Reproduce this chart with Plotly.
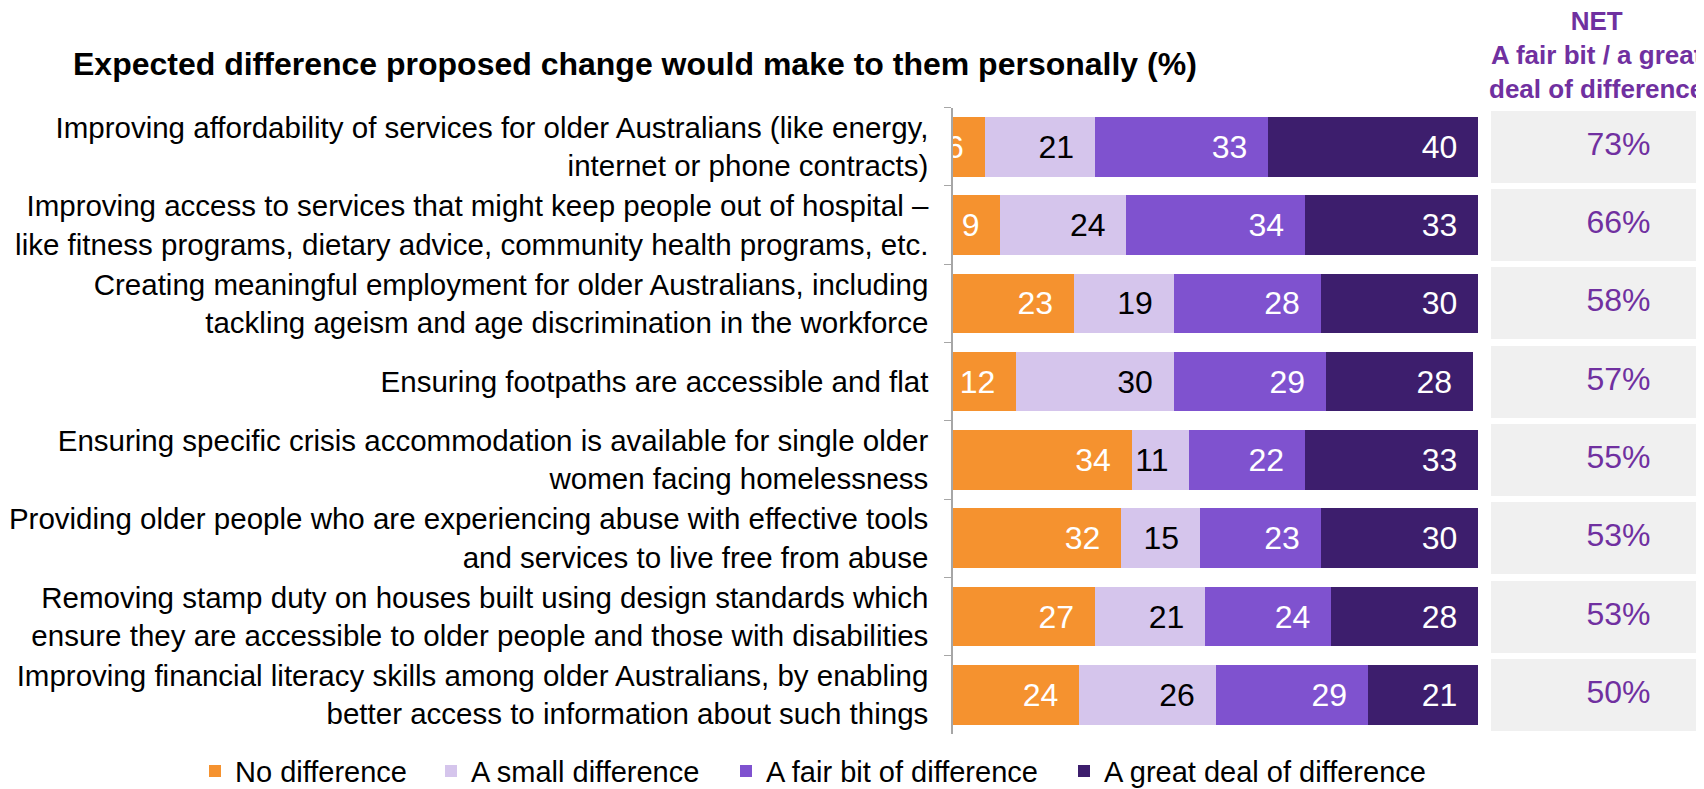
import plotly.graph_objects as go

# data
categories = [
    "Improving affordability of services for older Australians (like energy,<br>internet or phone contracts)",
    "Improving access to services that might keep people out of hospital \u2013<br>like fitness programs, dietary advice, community health programs, etc.",
    "Creating meaningful employment for older Australians, including<br>tackling ageism and age discrimination in the workforce",
    "Ensuring footpaths are accessible and flat",
    "Ensuring specific crisis accommodation is available for single older<br>women facing homelessness",
    "Providing older people who are experiencing abuse with effective tools<br>and services to live free from abuse",
    "Removing stamp duty on houses built using design standards which<br>ensure they are accessible to older people and those with disabilities",
    "Improving financial literacy skills among older Australians, by enabling<br>better access to information about such things",
]
no_difference = [6, 9, 23, 12, 34, 32, 27, 24]
small_difference = [21, 24, 19, 30, 11, 15, 21, 26]
fair_bit = [33, 34, 28, 29, 22, 23, 24, 29]
great_deal = [40, 33, 30, 28, 33, 30, 28, 21]
net_values = [73, 66, 58, 57, 55, 53, 53, 50]

series = [
    ("No difference", no_difference, "#F5922F", "white"),
    ("A small difference", small_difference, "#D5C5EC", "black"),
    ("A fair bit of difference", fair_bit, "#7F52CF", "white"),
    ("A great deal of difference", great_deal, "#3D1E6D", "white"),
]

FONT = "Liberation Sans, Arial, sans-serif"
PURPLE = "#7030A0"
W, H = 1704, 789
OFF = 8  # page body margin


def px(x):
    return (x - OFF) / W


def py(y):
    return 1 - (y - OFF) / H


fig = go.Figure()

legend_ids = ["legend", "legend2", "legend3", "legend4"]
legend_x = [195, 431, 726, 1064]

for (name, vals, col, tcol), lid in zip(series, legend_ids):
    fig.add_trace(go.Bar(
        y=categories, x=vals, name=name, orientation="h",
        marker=dict(color=col, line=dict(width=0)),
        width=0.76,
        text=[f"{v}\u00a0\u00a0" for v in vals],
        textposition="inside", insidetextanchor="end", textangle=0,
        constraintext="none",
        textfont=dict(family=FONT, size=32, color=tcol),
        hoverinfo="skip", legend=lid,
    ))

# NET column: grey boxes + value text
fig.add_trace(go.Bar(
    y=categories, x=[1.2] * len(categories), orientation="h",
    xaxis="x2", yaxis="y", width=0.92,
    marker=dict(color="#F0F0F0", line=dict(width=0)),
    showlegend=False, hoverinfo="skip",
))
fig.add_trace(go.Scatter(
    y=categories, x=[0.577] * len(categories), xaxis="x2", yaxis="y",
    mode="text", text=[f"{v}%" for v in net_values],
    textfont=dict(family=FONT, size=32, color=PURPLE),
    showlegend=False, hoverinfo="skip",
))

legend_style = dict(
    orientation="h", xanchor="left", y=py(778), yanchor="middle",
    font=dict(family=FONT, size=29, color="black"),
    itemwidth=30, bgcolor="rgba(0,0,0,0)",
)
legends = {lid: dict(legend_style, x=px(lx)) for lid, lx in zip(legend_ids, legend_x)}

fig.update_layout(
    width=W, height=H,
    margin=dict(l=0, r=0, t=0, b=0),
    paper_bgcolor="white", plot_bgcolor="white",
    barmode="stack",
    font=dict(family=FONT, color="black"),
    xaxis=dict(domain=[px(953), px(1478)], range=[0, 100], visible=False, fixedrange=True),
    xaxis2=dict(domain=[px(1491), 1.0], range=[0, 1], visible=False, anchor="y", fixedrange=True),
    yaxis=dict(
        domain=[py(740.5), py(108.5)], autorange="reversed", type="category",
        showline=True, linecolor="#A6A6A6", linewidth=1.5,
        ticks="outside", tickson="boundaries", ticklen=7, tickcolor="#A6A6A6",
        tickfont=dict(family=FONT, size=29.5, color="black"),
        ticklabelstandoff=17, automargin=False, showgrid=False,
    ),
    showlegend=True,
    **legends,
)

fig.add_annotation(
    text="<b>Expected difference proposed change would make to them personally (%)</b>",
    xref="paper", yref="paper", x=px(71), y=py(65),
    xanchor="left", yanchor="middle", showarrow=False,
    font=dict(family=FONT, size=32, color="black"),
)
fig.add_annotation(
    text="<b>NET<br>A fair bit / a great<br>deal of difference</b>",
    xref="paper", yref="paper", x=px(1487), y=py(55),
    xanchor="left", yanchor="middle", align="center", showarrow=False,
    font=dict(family=FONT, size=26, color=PURPLE),
)

fig.write_html("out.html")
